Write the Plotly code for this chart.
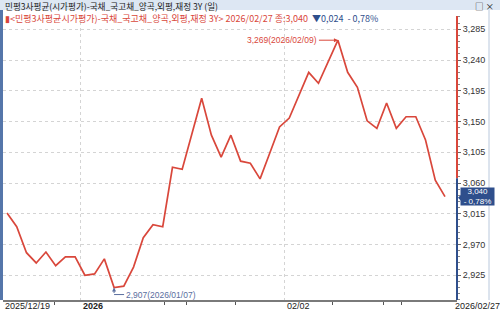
import plotly.graph_objects as go

dates = ["2025/12/19", "2025/12/22", "2025/12/23", "2025/12/24", "2025/12/26", "2025/12/29",
         "2025/12/30", "2025/12/31", "2026/01/02", "2026/01/05", "2026/01/06", "2026/01/07",
         "2026/01/08", "2026/01/09", "2026/01/12", "2026/01/13", "2026/01/14", "2026/01/15",
         "2026/01/16", "2026/01/19", "2026/01/20", "2026/01/21", "2026/01/22", "2026/01/23",
         "2026/01/26", "2026/01/27", "2026/01/28", "2026/01/29", "2026/01/30", "2026/02/02",
         "2026/02/03", "2026/02/04", "2026/02/05", "2026/02/06", "2026/02/09", "2026/02/10",
         "2026/02/11", "2026/02/12", "2026/02/13", "2026/02/19", "2026/02/20", "2026/02/23",
         "2026/02/24", "2026/02/25", "2026/02/26", "2026/02/27"]
values = [3.016, 2.996, 2.958, 2.943, 2.959, 2.939, 2.952, 2.952, 2.925, 2.927,
          2.949, 2.907, 2.909, 2.937, 2.980, 2.999, 2.996, 3.083, 3.080, 3.132,
          3.184, 3.130, 3.098, 3.130, 3.092, 3.089, 3.066, 3.104, 3.142, 3.155,
          3.189, 3.222, 3.206, 3.238, 3.269, 3.222, 3.200, 3.151, 3.140, 3.177,
          3.140, 3.157, 3.157, 3.123, 3.064, 3.040]
y_ticks = [2.925, 2.970, 3.015, 3.060, 3.105, 3.150, 3.195, 3.240, 3.285]
grid_x = [7.6, 28.56]
grid_labels = ["<b>2026</b>", "02/02"]
minor_x = [4.83, 16.23, 18.39, 23.43, 33.49, 38.63, 40.48]
title = "민평3사평균(시가평가)-국채_국고채_양곡,외평,재정 3Y (일)"
series_name = "&lt;민평3사평균시가평가)-국채_국고채_양곡,외평,재정 3Y&gt;"

RED = "#d9473b"
BLUE = "#2f4f8c"
CJK = "Noto Sans CJK KR"
NUM = "Liberation Sans"

def fmt(v, d=3):
    return f"{v:.{d}f}".replace(".", ",")

xs = list(range(len(values)))
last, prev = values[-1], values[-2]
chg = last - prev
pct = chg / prev * 100
imax = values.index(max(values))
imin = values.index(min(values))

fig = go.Figure()
fig.add_trace(go.Scatter(x=xs, y=values, mode="lines",
                         line=dict(color=RED, width=1.7), hoverinfo="skip"))

y0r, y1r = 2.8888, 3.3044
fig.update_layout(
    width=500, height=314,
    margin=dict(l=3, r=43, t=16, b=14),
    paper_bgcolor="white", plot_bgcolor="white",
    showlegend=False,
    separators=",.",
    xaxis=dict(range=[-0.411, 46.233], tickvals=grid_x, showticklabels=False,
               showgrid=True, gridcolor="#d4d4d4", griddash="dot", gridwidth=1,
               zeroline=False, showline=True, linecolor="#7a7a7a", linewidth=2,
               ticks="", minor=dict(tickmode="array", tickvals=minor_x, ticks="outside",
                                    ticklen=3, tickcolor="#555", showgrid=False)),
    yaxis=dict(range=[y0r, y1r], side="right", tickvals=y_ticks,
               ticktext=[fmt(v) for v in y_ticks],
               showgrid=True, gridcolor="#d4d4d4", griddash="dot", gridwidth=1,
               zeroline=False, showline=False, ticks="outside", ticklen=3,
               tickcolor="#666", tickfont=dict(family=NUM, size=9, color="#333"),
               minor=dict(dtick=0.009, tick0=2.925, ticks="outside", ticklen=2,
                          tickcolor="#888", showgrid=False)),
)

shapes = []
# title bar
shapes.append(dict(type="rect", xref="paper", yref="paper", x0=-0.0066, x1=1.1035,
                   y0=1.0211, y1=1.0563, fillcolor="#dde7f3", line=dict(width=0), layer="below"))
# left border
shapes.append(dict(type="rect", xref="paper", yref="paper", x0=-0.0066, x1=0.0,
                   y0=0.0, y1=1.0211, fillcolor="#5576aa", line=dict(width=0)))
# right border
shapes.append(dict(type="line", xref="paper", yref="paper", x0=1.0705, x1=1.0705,
                   y0=0.0, y1=1.0211, line=dict(color="#b9c8dc", width=1)))
# right axis line red/blue
split = 3.067
shapes.append(dict(type="line", xref="paper", yref="y", x0=1, x1=1, y0=split, y1=y1r,
                   line=dict(color=RED, width=2)))
shapes.append(dict(type="line", xref="paper", yref="y", x0=1, x1=1, y0=y0r, y1=split,
                   line=dict(color=BLUE, width=2)))
# min connector
shapes.append(dict(type="path", xref="x", yref="y", xsizemode="pixel", ysizemode="pixel",
                   xanchor=imin, yanchor=values[imin], path="M0,-7 L10,-7",
                   line=dict(color="#5a6e9e", width=1)))
# last value box notch
shapes.append(dict(type="path", xref="paper", yref="y", xsizemode="pixel", ysizemode="pixel",
                   xanchor=1, yanchor=last, path="M1,-1 L5,-5 L5,3 Z",
                   fillcolor=BLUE, line=dict(width=0)))
fig.update_layout(shapes=shapes)

ann = []
ann.append(dict(xref="paper", yref="paper", x=0.0, y=1.036, xanchor="left", yanchor="middle",
                text=title, showarrow=False, font=dict(family=CJK, size=8.6, color="#222")))
ann.append(dict(xref="paper", yref="paper", x=1.086, y=1.036, xanchor="right", yanchor="middle",
                text="□ ×", showarrow=False, font=dict(family=CJK, size=8.6, color="#222")))
hdr = (f'<span style="color:{RED}">▮{series_name} {dates[-1]} 종:{fmt(last)}</span>'
       f'  <span style="color:{BLUE}">▼{fmt(abs(chg))}  - {fmt(abs(pct), 2)}%</span>')
ann.append(dict(xref="paper", yref="paper", x=0.0, y=0.992, xanchor="left", yanchor="middle",
                text=hdr, showarrow=False, font=dict(family=CJK, size=9, color=RED)))
# peak
ann.append(dict(x=imax, y=values[imax], xref="x", yref="y",
                text=f"{fmt(values[imax])}({dates[imax]})", showarrow=True,
                ax=-19, ay=0, xanchor="right", arrowhead=2, arrowsize=0.8, arrowwidth=1,
                arrowcolor=RED, font=dict(family=NUM, size=8.5, color=RED)))
# min
ann.append(dict(x=imin, y=values[imin], xref="x", yref="y", text="", showarrow=True,
                ax=0, ay=7, arrowhead=2, arrowsize=0.8, arrowwidth=1, arrowcolor="#5a6e9e"))
ann.append(dict(x=imin, y=values[imin], xref="x", yref="y",
                text=f"{fmt(values[imin])}({dates[imin]})", showarrow=False,
                xanchor="left", yanchor="middle", xshift=10, yshift=-7,
                font=dict(family=NUM, size=8.5, color="#5a6e9e")))
# last value box
ann.append(dict(xref="paper", yref="y", x=1, y=last, xanchor="left", yanchor="middle",
                xshift=3, yshift=0, text=f"{fmt(last)}<br>- {fmt(abs(pct), 2)}%",
                showarrow=False, bgcolor=BLUE, width=33, height=17, borderpad=0,
                align="center", font=dict(family=NUM, size=8, color="white")))
# x labels
ann.append(dict(xref="paper", yref="paper", x=0.0, y=-0.022, xanchor="left", yanchor="middle",
                text=dates[0], showarrow=False, font=dict(family=NUM, size=9, color="#222")))
for gx, gl in zip(grid_x, grid_labels):
    ann.append(dict(xref="x", yref="paper", x=gx, y=-0.022, xanchor="left", yanchor="middle",
                    text=gl, showarrow=False, font=dict(family=NUM, size=9, color="#222")))
ann.append(dict(xref="paper", yref="paper", x=1.1, y=-0.022, xanchor="right", yanchor="middle",
                text=dates[-1], showarrow=False, font=dict(family=NUM, size=9, color="#222")))
fig.update_layout(annotations=ann)

fig.write_html("out.html")
